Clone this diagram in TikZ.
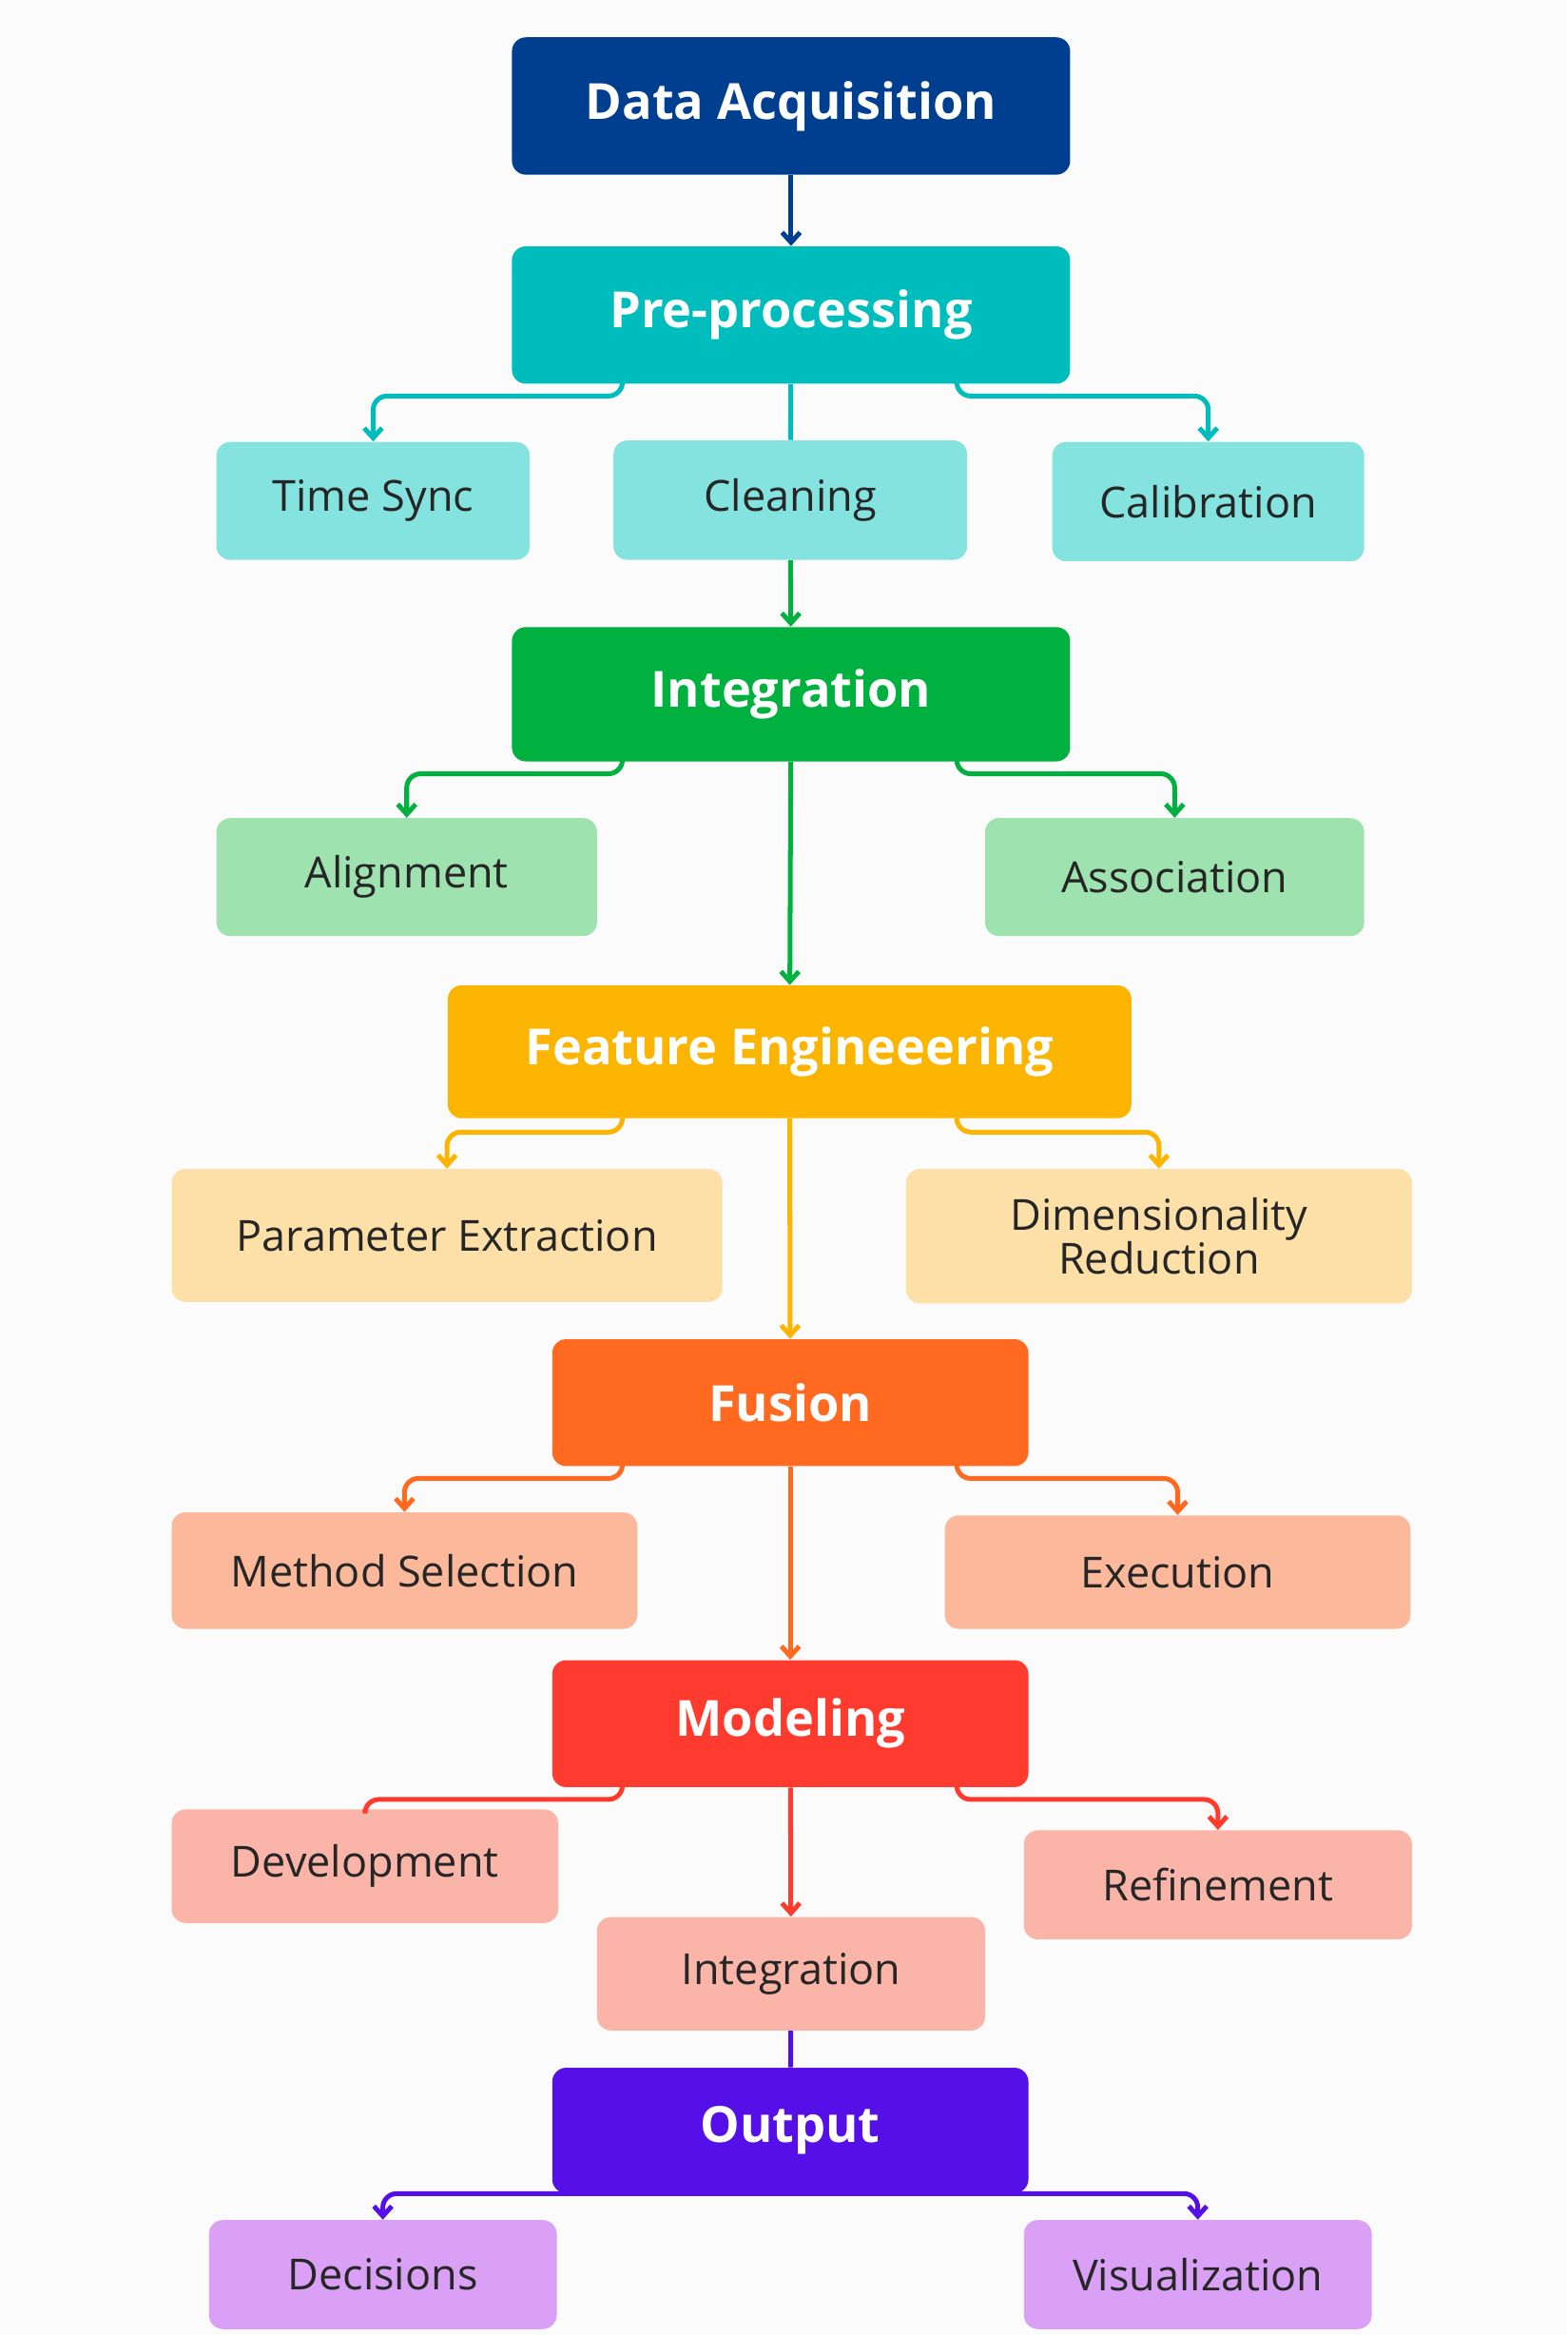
\documentclass[tikz,border=0pt]{standalone}
\usetikzlibrary{arrows.meta}
\usepackage{fontspec}
\setmainfont{Open Sans}
\begin{document}
\begin{tikzpicture}[x=0.75pt,y=-0.75pt,
 main/.style={draw=none,rounded corners=7pt,text=white,font=\fontsize{25}{28}\selectfont\bfseries,align=center},
 sub/.style={draw=none,rounded corners=7pt,text=black!85,font=\fontsize{21.5}{24}\selectfont\mdseries,align=center},
 conn/.style={line width=2.4pt,rounded corners=7pt},
 arr/.style={conn,-{Straight Barb[length=5pt,width=9pt]}}]
\fill[white!97!gray] (0,0) rectangle (1050,1564);
\newcommand\bx[8]{\node[#6,fill=#7,minimum width={(#4-#2)*0.75pt},minimum height={(#5-#3)*0.75pt},inner sep=0pt] (#1) at ({(#2+#4)/2},{(#3+#5)/2}) {#8};}
\definecolor{cA}{HTML}{003F8F}\definecolor{cB}{HTML}{00BDBD}\definecolor{cBl}{HTML}{84E2DF}
\definecolor{cC}{HTML}{00B140}\definecolor{cCl}{HTML}{9EE2B0}
\definecolor{cD}{HTML}{FBB400}\definecolor{cDl}{HTML}{FDDFA8}
\definecolor{cE}{HTML}{FF6A20}\definecolor{cEl}{HTML}{FBB89A}
\definecolor{cF}{HTML}{FF3B30}\definecolor{cFl}{HTML}{FBB5A8}
\definecolor{cG}{HTML}{5510E8}\definecolor{cGl}{HTML}{D9A0F5}
\bx{acq}{343}{25}{717}{117}{main}{cA}{Data Acquisition}
\bx{pre}{343}{165}{717}{257}{main}{cB}{Pre-processing}
\bx{ts}{145}{296}{355}{375}{sub}{cBl}{Time Sync}
\bx{cl}{411}{295}{648}{375}{sub}{cBl}{Cleaning}
\bx{cal}{705}{296}{914}{376}{sub}{cBl}{Calibration}
\bx{int}{343}{420}{717}{510}{main}{cC}{Integration}
\bx{al}{145}{548}{400}{627}{sub}{cCl}{Alignment}
\bx{as}{660}{548}{914}{627}{sub}{cCl}{Association}
\bx{fe}{300}{660}{758}{749}{main}{cD}{Feature Engineeering}
\bx{pe}{115}{783}{484}{872}{sub}{cDl}{Parameter Extraction}
\bx{dr}{607}{783}{946}{873}{sub}{cDl}{Dimensionality\\[-2pt]Reduction}
\bx{fu}{370}{897}{689}{982}{main}{cE}{Fusion}
\bx{ms}{115}{1013}{427}{1091}{sub}{cEl}{Method Selection}
\bx{ex}{633}{1015}{945}{1091}{sub}{cEl}{Execution}
\bx{mo}{370}{1112}{689}{1197}{main}{cF}{Modeling}
\bx{dev}{115}{1212}{374}{1288}{sub}{cFl}{Development}
\bx{ref}{686}{1226}{946}{1299}{sub}{cFl}{Refinement}
\bx{in2}{400}{1284}{660}{1360}{sub}{cFl}{Integration}
\bx{out}{370}{1385}{689}{1469}{main}{cG}{Output}
\bx{dec}{140}{1487}{373}{1560}{sub}{cGl}{Decisions}
\bx{vis}{686}{1487}{919}{1560}{sub}{cGl}{Visualization}
\coordinate (L) at (417,0); \coordinate (R) at (641,0);
\draw[arr,cA] (acq) -- (pre);
\draw[conn,cB] (pre) -- (cl);
\draw[arr,cB] (L|-pre.south) -- ++(0,8) -| (ts.north);
\draw[arr,cB] (R|-pre.south) -- ++(0,8) -| (cal.north);
\draw[arr,cC] (cl) -- (int);
\draw[arr,cC] (L|-int.south) -- ++(0,8) -| (al.north);
\draw[arr,cC] (R|-int.south) -- ++(0,8) -| (as.north);
\draw[arr,cC] (int) -- (fe);
\draw[arr,cD] (L|-fe.south) -- ++(0,9) -| (pe.north);
\draw[arr,cD] (R|-fe.south) -- ++(0,9) -| (dr.north);
\draw[arr,cD] (fe) -- (fu);
\draw[arr,cE] (L|-fu.south) -- ++(0,8) -| (ms.north);
\draw[arr,cE] (R|-fu.south) -- ++(0,8) -| (ex.north);
\draw[arr,cE] (fu) -- (mo);
\draw[conn,cF] (L|-mo.south) -- ++(0,8) -| (dev.north);
\draw[arr,cF] (R|-mo.south) -- ++(0,8) -| (ref.north);
\draw[arr,cF] (mo) -- (in2);
\draw[conn,cG] (in2) -- (out);
\draw[arr,cG] (out.south) -| (dec.north);
\draw[arr,cG] (out.south) -| (vis.north);
\end{tikzpicture}
\end{document}
